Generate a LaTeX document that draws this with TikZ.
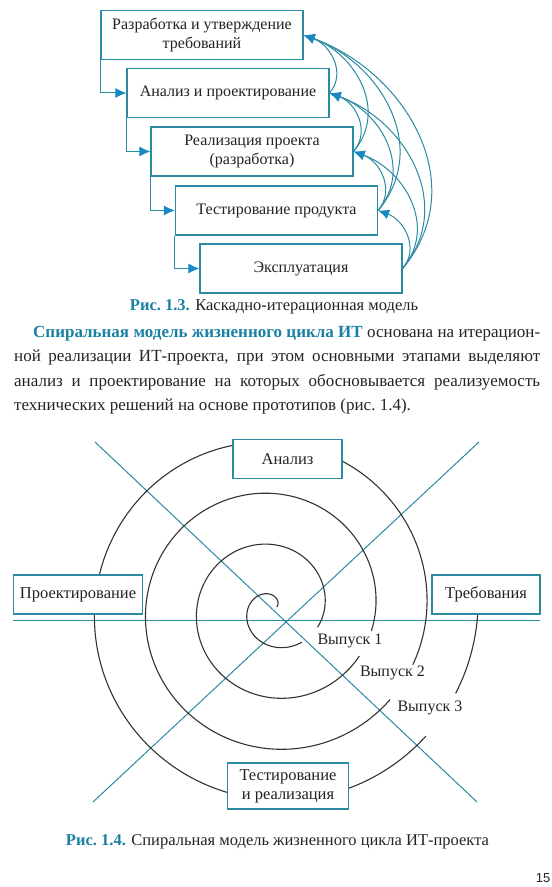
\documentclass[tikz,border=0pt]{standalone}
\usepackage{fontspec}
\setmainfont{Liberation Serif}
\setsansfont{Liberation Sans}
\usepackage{tikz}
\usetikzlibrary{arrows.meta,positioning,calc}
\definecolor{pgTeal}{RGB}{ 42,138,162}
\definecolor{pgBlue}{RGB}{ 24,136,196}
\definecolor{pgHead}{RGB}{ 26,128,164}
\definecolor{pgInk} {RGB}{ 35, 35, 35}
\definecolor{pgCoil}{RGB}{ 50, 50, 50}
\newcommand{\Fig}[1]{\textcolor{pgHead}{\bfseries Рис.~#1.}}

\begin{document}
\begin{tikzpicture}[x=1pt,y=1pt,
    every node/.style={align=center,text=pgInk},
    stage/.style={rectangle,draw=pgTeal,line width=1.2pt,fill=white,
                  minimum width=202pt,minimum height=49pt,inner sep=2pt,
                  font=\fontsize{16}{19}\selectfont},
    phase/.style={rectangle,draw=pgTeal,line width=1.2pt,fill=white,
                  minimum height=39pt,inner sep=3pt,
                  font=\fontsize{16.5}{19}\selectfont},
    flow/.style={pgTeal,line width=1pt,
                 -{Latex[length=11pt,width=10pt,color=pgBlue]}},
    back/.style={flow,out=50,in=-20,looseness=1.1},
    cross/.style={pgTeal,line width=1pt},
    coil/.style={pgCoil,line width=1.1pt,smooth},
    rel/.style={font=\fontsize{16}{19}\selectfont,fill=white,inner sep=1pt},
    figcap/.style={font=\fontsize{16.5}{19}\selectfont}
  ]
  \useasboundingbox (0,0) rectangle (552,887);
  % Cascade stages
  \node[stage] (req)    at (202,852)   {Разработка и утверждение\\требований};
  \node[stage] (design) at (228,794)   {Анализ и проектирование};
  \node[stage] (build)  at (252,735.5) {Реализация проекта\\(разработка)};
  \node[stage] (test)   at (276.5,676.5) {Тестирование продукта};
  \node[stage] (ops)    at (301,618.5) {Эксплуатация};
  \draw[flow] (req.south west)    |- (design.west);
  \draw[flow] (design.south west) |- (build.west);
  \draw[flow] (build.south west)  |- (test.west);
  \draw[flow] (test.south west)   |- (ops.west);
  % Iterations back
  \draw[back] (design.east) to (req.east);
  \draw[back] (build.east)  to (req.east);
  \draw[back] (build.east)  to (design.east);
  \draw[back] (test.east)   to (req.east);
  \draw[back] (test.east)   to (design.east);
  \draw[back] (test.east)   to (build.east);
  \draw[back] (ops.east)    to (req.east);
  \draw[back] (ops.east)    to (design.east);
  \draw[back] (ops.east)    to (build.east);
  \draw[back] (ops.east)    to (test.east);
  \node[figcap] (cap3) at (274,580) {\Fig{1.3} Каскадно-итерационная модель};
  % Text
  \node[anchor=north west,inner sep=0pt,text width=526pt,align=justify,
        font=\fontsize{17}{24.5}\selectfont] (para) at (14,561)
    {\hspace*{19pt}\textcolor{pgHead}{\bfseries Спиральная модель жизненного
     цикла ИТ} основана на итерацион-\linebreak ной реализации ИТ-проекта,
     при этом основными этапами выделяют\linebreak анализ и проектирование
     на которых обосновывается реализуемость\linebreak технических решений
     на основе прототипов (рис.~1.4).};
  % Spiral
  \coordinate (sc) at (273.5,278.5);
  \coordinate (w)  at (13,266);
  \coordinate (e)  at (540,266);
  \coordinate (nw) at (95,445);
  \coordinate (ne) at (479,445);
  \coordinate (sw) at (93,85);
  \coordinate (se) at (477,85);
  \draw[cross] (w) -- (e);
  \draw[cross] (nw) -- (se);
  \draw[cross] (ne) -- (sw);
  \draw[coil,shift={(sc)}] plot[domain=25:310,samples=80]   (\x:{0.142*\x});
  \draw[coil,shift={(sc)}] plot[domain=337:691,samples=90]  (\x:{0.142*\x});
  \draw[coil,shift={(sc)}] plot[domain=707:1042,samples=90] (\x:{0.142*\x});
  \draw[coil,shift={(sc)}] plot[domain=1058:1400,samples=100] (\x:{0.142*\x});
  \draw[coil,shift={(sc)}] plot[domain=1415:1445,samples=12] (\x:{0.142*\x});
  \node[phase,minimum width=109pt] (anl)  at (287.5,428) {Анализ};
  \node[phase,minimum width=129pt] (prj)  at (78,292.5)  {Проектирование};
  \node[phase,minimum width=108pt] (trb)  at (486,292.5) {Требования};
  \node[phase,minimum width=121pt,minimum height=46pt] (tst) at (288,101)
    {Тестирование\\и реализация};
  \node[rel] (r1) at (350,246)   {Выпуск 1};
  \node[rel] (r2) at (392.5,214) {Выпуск 2};
  \node[rel] (r3) at (430,179)   {Выпуск 3};
  \node[figcap] (cap4) at (277.5,45)
    {\Fig{1.4} Спиральная модель жизненного цикла ИТ-проекта};
  \node[font=\sffamily\fontsize{13}{15}\selectfont] (pg) at (543,9) {15};
\end{tikzpicture}
\end{document}
